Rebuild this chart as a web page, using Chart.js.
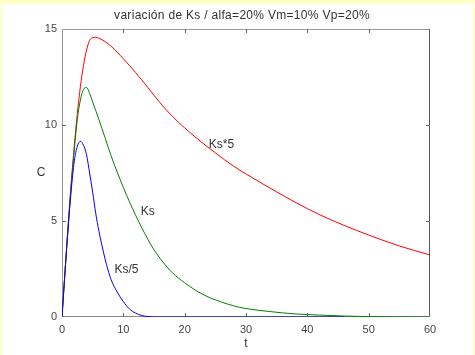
<!DOCTYPE html>
<html>
<head>
<meta charset="utf-8">
<script src="https://cdn.jsdelivr.net/npm/chart.js@4.4.0/dist/chart.umd.min.js"></script>
<style>
  html, body { margin: 0; padding: 0; background: #fff; }
  #wrap { width: 475px; height: 355px; }
</style>
</head>
<body>
<div id="wrap"><canvas id="chart" width="475" height="355"></canvas></div>
<script>
// values
const titleText = "variación de Ks / alfa=20% Vm=10% Vp=20%"
const xTicks = [0, 10, 20, 30, 40, 50, 60]
const yTicks = [0, 5, 10, 15]

// Ks*5 (red)
const tRed = [0, 0.5, 1, 1.5, 2, 2.5, 3, 3.5, 4, 4.5, 5, 5.5, 6, 7, 8, 9, 10, 11, 12, 13, 14, 16, 18, 20, 22, 25, 28, 30, 34, 38, 42, 46, 50, 55, 60]
const cRed = [0, 2.4, 4.8, 7.0, 8.9, 10.6, 12.0, 13.1, 13.9, 14.4, 14.55, 14.57, 14.52, 14.35, 14.1, 13.8, 13.45, 13.1, 12.73, 12.35, 11.95, 11.15, 10.45, 9.85, 9.3, 8.55, 7.85, 7.45, 6.7, 5.98, 5.33, 4.77, 4.27, 3.7, 3.23]

// Ks (green)
const tGreen = [0, 0.5, 1, 1.5, 2, 2.5, 3, 3.5, 4, 4.5, 5, 6, 7, 8, 9, 10, 11, 12, 13, 14, 15, 16, 17, 18, 20, 22, 24, 26, 28, 30, 34, 38, 42, 46, 50, 55, 60]
const cGreen = [0, 2.4, 4.7, 6.8, 8.7, 10.3, 11.3, 11.85, 11.95, 11.65, 11.2, 10.3, 9.35, 8.4, 7.55, 6.75, 6.0, 5.3, 4.65, 4.05, 3.5, 3.05, 2.65, 2.3, 1.78, 1.35, 1.02, 0.78, 0.58, 0.44, 0.28, 0.16, 0.1, 0.05, 0.02, 0.01, 0]

// Ks/5 (blue)
const tBlue = [0, 0.5, 1, 1.5, 2, 2.5, 3, 3.5, 4, 4.5, 5, 5.5, 6, 6.5, 7, 7.5, 8, 9, 10, 11, 12, 13, 14, 16, 20, 30, 40, 46]
const cBlue = [0, 2.4, 4.6, 6.6, 8.1, 8.9, 9.15, 8.95, 8.45, 7.5, 6.5, 5.4, 4.5, 3.75, 3.05, 2.45, 1.95, 1.3, 0.8, 0.42, 0.2, 0.08, 0.02, 0, 0, 0, 0, 0]

// curve labels: [text, t, C]
const curveLabels = [["Ks*5", 26.0, 9.0], ["Ks", 14.0, 5.5], ["Ks/5", 10.5, 2.45]]

function pts(ts, cs) {
  return ts.map((t, i) => ({x: t, y: cs[i]}))
}

const font = "Liberation Sans, Arial, sans-serif"

const figure = {
  id: "figure",
  beforeDraw(chart) {
    const ctx = chart.ctx
    ctx.save()
    ctx.fillStyle = "#ffffc8"
    ctx.fillRect(0, 0, chart.width, chart.height)
    ctx.fillStyle = "#ffffff"
    ctx.fillRect(2, 4, chart.width - 4, chart.height - 4)
    ctx.restore()
  },
  // box and inward ticks go under the curves
  beforeDatasetsDraw(chart) {
    const ctx = chart.ctx
    const a = chart.chartArea
    const xs = chart.scales.x, ys = chart.scales.y
    ctx.save()
    ctx.lineWidth = 1
    ctx.strokeStyle = "#999999"
    ctx.beginPath()
    ctx.moveTo(a.left + 0.5, a.bottom)
    ctx.lineTo(a.left + 0.5, a.top + 0.5)
    ctx.lineTo(a.right, a.top + 0.5)
    ctx.stroke()
    ctx.strokeStyle = "#555555"
    ctx.beginPath()
    ctx.moveTo(a.right - 0.5, a.top)
    ctx.lineTo(a.right - 0.5, a.bottom - 0.5)
    ctx.stroke()
    ctx.strokeStyle = "#888888"
    ctx.beginPath()
    ctx.moveTo(a.left, a.bottom - 0.5)
    ctx.lineTo(a.right - 1, a.bottom - 0.5)
    ctx.stroke()
    ctx.strokeStyle = "#666666"
    ctx.beginPath()
    xTicks.forEach(v => {
      const px = Math.round(xs.getPixelForValue(v)) + 0.5
      if (v === 0 || v === 60) return
      ctx.moveTo(px, a.bottom); ctx.lineTo(px, a.bottom - 4)
      ctx.moveTo(px, a.top); ctx.lineTo(px, a.top + 4)
    })
    yTicks.forEach(v => {
      const py = Math.round(ys.getPixelForValue(v)) + 0.5
      if (v === 0 || v === 15) return
      ctx.moveTo(a.left, py); ctx.lineTo(a.left + 4, py)
      ctx.moveTo(a.right, py); ctx.lineTo(a.right - 4, py)
    })
    ctx.stroke()
    ctx.restore()
  },
  afterDraw(chart) {
    const ctx = chart.ctx
    const a = chart.chartArea
    const xs = chart.scales.x, ys = chart.scales.y
    ctx.save()
    ctx.fillStyle = "#333333"
    ctx.font = "12px " + font
    ctx.letterSpacing = "0.3px"
    ctx.textAlign = "center"
    ctx.textBaseline = "middle"
    ctx.fillText(titleText, 242, 16)
    ctx.letterSpacing = "0px"
    ctx.fillText("t", (a.left + a.right) / 2, 344)
    ctx.fillText("C", 41, 173)
    curveLabels.forEach(([txt, t, c]) => {
      ctx.fillText(txt, xs.getPixelForValue(t), ys.getPixelForValue(c))
    })
    ctx.restore()
  }
}

new Chart(document.getElementById("chart"), {
  type: "line",
  data: {
    datasets: [
      {label: "Ks*5", data: pts(tRed, cRed), borderColor: "#ff0000", order: 2},
      {label: "Ks", data: pts(tGreen, cGreen), borderColor: "#008000", order: 1},
      {label: "Ks/5", data: pts(tBlue, cBlue), borderColor: "#0000ff", order: 0}
    ]
  },
  options: {
    responsive: false,
    animation: false,
    layout: {padding: {top: 29, right: 45, left: 0, bottom: 0}},
    elements: {
      point: {radius: 0},
      line: {borderWidth: 1, cubicInterpolationMode: "monotone", fill: false}
    },
    plugins: {legend: {display: false}, tooltip: {enabled: false}, title: {display: false}},
    scales: {
      x: {
        type: "linear", min: 0, max: 60,
        grid: {display: false, drawTicks: false},
        border: {display: false},
        ticks: {stepSize: 10, padding: 6, color: "#444444", font: {size: 11, family: font}, maxRotation: 0},
        afterFit: s => { s.height = 38 }
      },
      y: {
        min: 0, max: 15,
        grid: {display: false, drawTicks: false},
        border: {display: false},
        ticks: {stepSize: 5, padding: 5, color: "#444444", font: {size: 11, family: font}},
        afterFit: s => { s.width = 62 }
      }
    }
  },
  plugins: [figure]
})
</script>
</body>
</html>
